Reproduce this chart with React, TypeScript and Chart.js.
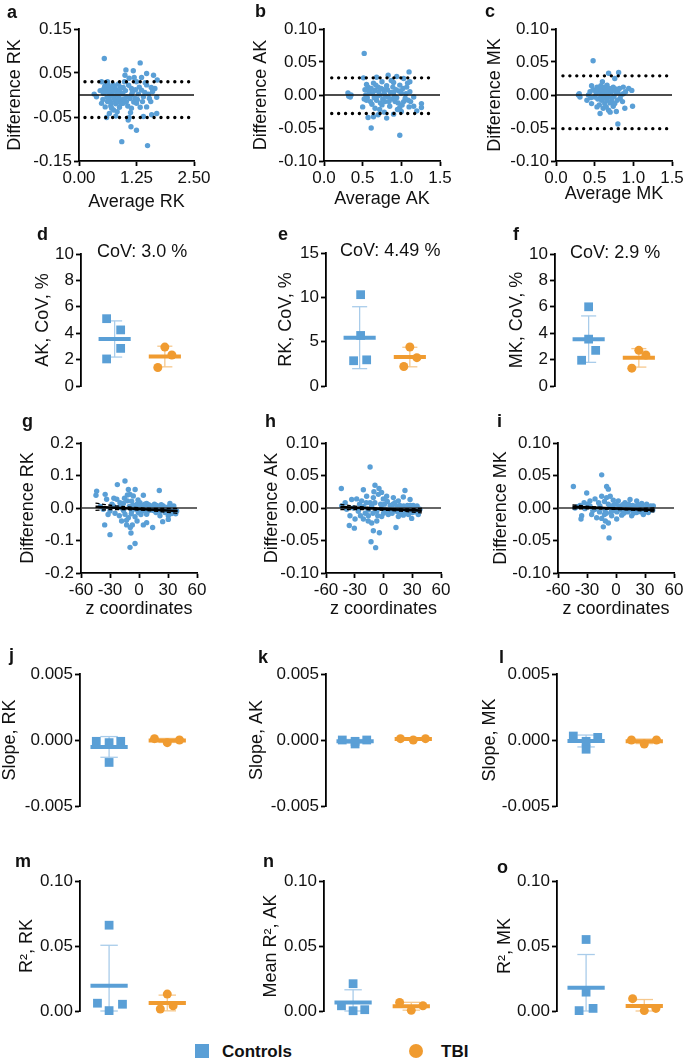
import React, { useEffect, useRef } from "react";
import { Chart, registerables } from "chart.js";
Chart.register(...registerables);

const FONT = '"Liberation Sans", Arial, Helvetica, sans-serif';
const FS = 17;
const TS = 18;
const BLUE = "#5A9FD6";
const ORANGE = "#F09B30";
const BLUE_LIGHT = "#A9CCEA";
const ORANGE_LIGHT = "#F6C88D";
const INK = "#111111";

type XY = [number, number];

// ---------------- tick values ----------------
const ticksDiffRK = [-0.15, -0.05, 0.05, 0.15];
const ticksAvgRK = [0, 1.25, 2.5];
const ticksDiff10 = [-0.1, -0.05, 0, 0.05, 0.1];
const ticksAvg15 = [0, 0.5, 1, 1.5];
const ticksCov10 = [0, 2, 4, 6, 8, 10];
const ticksCov15 = [0, 5, 10, 15];
const ticksDiff20 = [-0.2, -0.1, 0, 0.1, 0.2];
const ticksZ = [-60, -30, 0, 30, 60];
const ticksSlope = [-0.005, 0, 0.005];
const ticksR2 = [0, 0.05, 0.1];

// ---------------- Bland-Altman data (average, difference) ----------------
const baRK: XY[] = [
  [0.55,0.083],[1.33,0.073],[1.02,0.057],[1.18,0.055],[1.47,0.049],[1.62,0.045],[1.36,0.040],[1.70,0.034],[1.00,0.045],[1.09,0.038],
  [0.49,0.030],[0.59,0.028],[0.86,0.025],[1.25,0.030],[1.47,0.023],[1.57,0.017],[0.67,0.017],[0.78,0.020],[0.96,0.017],[1.14,0.015],
  [1.36,0.011],[0.33,0.002],[0.38,-0.004],[0.46,0.010],[0.53,0.004],[0.60,0.013],[0.64,-0.004],[0.71,0.005],[0.76,-0.008],[0.82,0.000],
  [0.89,0.008],[0.93,-0.011],[1.04,-0.004],[1.14,0.000],[1.22,-0.008],[1.29,0.002],[1.40,-0.004],[1.51,0.002],[1.60,0.008],[1.69,-0.005],
  [0.49,-0.019],[0.57,-0.027],[0.62,-0.015],[0.69,-0.025],[0.75,-0.034],[0.80,-0.020],[0.88,-0.028],[0.96,-0.019],[1.06,-0.025],[1.14,-0.030],
  [1.25,-0.019],[1.33,-0.028],[1.47,-0.027],[1.56,-0.015],[0.60,-0.051],[0.80,-0.048],[1.07,-0.057],[1.09,-0.051],[1.40,-0.049],[1.58,-0.045],
  [1.69,-0.042],[1.13,-0.072],[1.25,-0.080],[0.93,-0.106],[1.49,-0.115],[0.56,0.020],[0.58,0.008],[0.61,-0.005],[0.63,0.022],[0.65,0.006],
  [0.66,-0.012],[0.68,0.010],[0.70,-0.018],[0.72,0.015],[0.73,-0.002],[0.74,0.024],[0.77,0.009],[0.79,-0.012],[0.81,0.012],[0.84,-0.015],
  [0.85,0.004],[0.87,-0.006],[0.90,0.018],[0.91,-0.020],[0.95,0.003],[0.98,-0.009],[1.01,0.010],[1.03,-0.015],[1.08,0.022],[1.11,-0.008],
  [1.16,0.006],[1.19,-0.016],[1.23,0.012],[1.27,-0.010],[1.31,0.018],[1.38,-0.015],[1.43,0.006],[1.53,-0.008],[1.65,0.015],[0.52,-0.010],
  [0.54,0.014],[0.62,0.030],[0.71,-0.030],[0.83,-0.038],[0.99,0.030],[1.20,0.040],[1.44,0.028],[1.12,-0.040],[0.66,-0.042],
];
const baAK: XY[] = [
  [0.52,0.063],[1.10,0.035],[0.83,0.030],[0.94,0.028],[0.51,0.026],[0.68,0.027],[1.03,0.025],[1.11,0.020],[0.75,0.020],[0.64,0.018],
  [0.90,0.019],[0.98,0.015],[0.81,0.014],[0.57,0.012],[0.70,0.012],[1.07,0.012],[0.31,0.003],[0.34,-0.003],[0.53,0.008],[0.59,0.003],
  [0.66,0.007],[0.72,0.000],[0.77,0.008],[0.83,-0.003],[0.90,0.004],[0.94,-0.004],[1.00,0.003],[1.05,-0.005],[1.11,0.005],[1.16,-0.003],
  [0.50,-0.018],[0.55,-0.008],[0.62,-0.014],[0.68,-0.008],[0.75,-0.015],[0.79,-0.010],[0.85,-0.017],[0.92,-0.010],[0.98,-0.019],[1.03,-0.010],
  [1.09,-0.008],[1.20,-0.024],[1.26,-0.013],[1.26,-0.019],[1.16,-0.017],[0.57,-0.034],[0.64,-0.033],[0.81,-0.035],[0.70,-0.030],[0.90,-0.029],
  [1.00,-0.025],[0.61,-0.050],[0.98,-0.061],[1.10,-0.018],[0.54,0.000],[0.56,-0.004],[0.58,0.006],[0.60,-0.010],[0.61,0.010],[0.63,0.002],
  [0.65,-0.004],[0.67,0.015],[0.69,-0.002],[0.71,0.005],[0.73,-0.012],[0.74,0.010],[0.76,-0.006],[0.78,0.002],[0.80,-0.002],[0.82,0.008],
  [0.84,-0.010],[0.86,0.004],[0.88,-0.006],[0.89,0.012],[0.91,-0.002],[0.93,0.008],[0.96,-0.012],[0.97,0.006],[1.01,-0.015],[1.02,0.010],
  [1.06,0.002],[1.08,0.018],[1.12,-0.010],[0.72,-0.022],[0.78,-0.026],[0.87,0.022],[0.66,-0.020],[0.95,-0.022],[0.55,0.016],[0.52,-0.006],
  [0.35,0.000],[0.32,-0.002],
];
const baMK: XY[] = [
  [0.48,0.052],[0.68,0.033],[0.81,0.034],[0.76,0.025],[0.60,0.020],[0.46,0.014],[0.53,0.012],[0.66,0.015],[0.74,0.012],[0.87,0.012],
  [0.94,0.010],[0.98,0.007],[0.29,0.000],[0.31,-0.003],[0.40,-0.008],[0.44,0.005],[0.50,-0.003],[0.57,0.005],[0.61,-0.003],[0.68,0.003],
  [0.72,-0.005],[0.78,0.003],[0.83,-0.005],[0.87,0.002],[0.46,-0.013],[0.53,-0.018],[0.57,-0.028],[0.63,-0.013],[0.68,-0.023],[0.74,-0.017],
  [0.78,-0.025],[0.89,-0.020],[0.99,-0.017],[0.80,-0.044],[0.72,-0.010],[0.59,-0.008],[0.66,-0.008],[0.30,0.002],[0.42,0.000],[0.48,0.008],
  [0.52,0.002],[0.54,-0.006],[0.55,0.010],[0.58,-0.002],[0.60,0.008],[0.62,0.002],[0.63,0.012],[0.64,-0.005],[0.65,0.006],[0.67,-0.002],
  [0.69,0.010],[0.70,-0.012],[0.71,0.004],[0.73,0.007],[0.75,-0.002],[0.77,0.009],[0.79,-0.008],[0.80,0.006],[0.82,0.010],[0.84,0.000],
  [0.86,-0.010],[0.90,0.005],[0.56,-0.015],[0.61,-0.020],[0.65,-0.018],[0.70,-0.026],[0.76,-0.013],[0.51,0.006],[0.45,-0.004],[0.58,0.014],
];
// limits of agreement
const loaRK = [0.030, -0.051];
const loaAK = [0.026, -0.028];
const loaMK = [0.029, -0.051];

// ---------------- difference vs z coordinate ----------------
const zRK: XY[] = [
  [-43.8,0.052],[-44.5,0.039],[-35,0.042],[-33.5,0.027],[-22.4,0.072],[-14.5,0.083],[-11,0.057],[-4,0.057],[-5.9,0.037],[-9.3,0.042],
  [4.5,0.039],[21,0.054],[-23,0.027],[-19.7,0.016],[-26.6,0.006],[-16.2,0.014],[-7.6,0.021],[-2.4,0.011],[1,0.016],[7.9,0.014],
  [13,0.006],[18.3,0.008],[25,0.006],[32,0.014],[35.5,0.001],[39,-0.009],[-37,-0.004],[-30,-0.009],[-24.8,-0.016],[-20.3,-0.024],
  [-14.5,-0.019],[-11,-0.030],[-7.6,-0.009],[-4.1,-0.027],[-0.7,-0.014],[3.8,-0.009],[7.9,-0.019],[12,-0.006],[17.6,-0.014],[21.7,-0.024],
  [27,-0.014],[30.3,-0.024],[33.8,-0.017],[37,-0.014],[-35.5,-0.052],[-30,-0.082],[-18,-0.040],[-12.8,-0.052],[-6.9,-0.052],[-8.3,-0.077],
  [-9.3,-0.121],[-4.1,-0.109],[4.5,-0.052],[7.9,-0.045],[14.1,-0.060],[24.5,-0.042],[30.3,-0.035],[-40,0.005],[-28,0.012],[-18,0.000],
  [-15,0.030],[-12,0.022],[-10,0.005],[-8,-0.018],[-6,0.008],[-3,-0.004],[-1,0.025],[0,0.004],[2,-0.020],[3,0.008],
  [5,-0.003],[6,0.012],[8,0.002],[9,-0.010],[10,0.010],[11,-0.002],[14,0.002],[15,-0.008],[16,0.012],[19,-0.004],
  [20,0.003],[22,-0.010],[23,0.010],[26,-0.004],[28,0.002],[29,-0.008],[31,0.004],[34,-0.004],[36,0.006],[38,-0.018],
  [-13,-0.038],[-16,-0.008],[-21,0.002],[-32,-0.020],[-26,0.030],[-12,0.040],[-2,-0.040],[-9,-0.060],
];
const zAK: XY[] = [
  [-14,0.063],[-44,0.030],[-8.9,0.035],[-4.7,0.030],[-21,0.028],[22.4,0.027],[-33.2,0.013],[-28,0.014],[-22.8,0.011],[-17.6,0.018],
  [-10.6,0.016],[-5.4,0.021],[-0.2,0.014],[3.3,0.018],[10.3,0.016],[15.5,0.011],[20.7,0.017],[27.7,0.013],[31,0.004],[34.6,0.002],
  [-43.6,0.003],[-38.4,-0.002],[-31.5,0.000],[-26.3,-0.005],[-21,0.002],[-15.8,-0.003],[-12.3,0.003],[-7.1,-0.005],[-1.9,0.000],[3.3,-0.004],
  [8.5,0.002],[13.7,-0.005],[19,-0.001],[24.2,-0.005],[29.4,0.000],[36.3,-0.004],[-35,-0.012],[-29.7,-0.017],[-35.7,-0.027],[-30.4,-0.031],
  [-21,-0.017],[-15.8,-0.012],[-12.3,-0.023],[-10.6,-0.035],[-4.3,-0.038],[-13,-0.052],[-8.2,-0.061],[-1.9,-0.013],[5,-0.010],[13,-0.030],
  [20.7,-0.011],[29.4,-0.016],[36.3,-0.010],[15.5,-0.013],[-40,0.008],[-25,0.006],[-18,0.008],[-9,0.008],[-6,-0.012],[-3,0.006],
  [0,-0.008],[1,0.006],[2,-0.002],[4,0.010],[6,-0.006],[7,0.004],[9,-0.008],[10,0.006],[11,-0.003],[12,0.008],
  [14,0.002],[16,-0.006],[17,0.004],[18,-0.008],[21,0.003],[23,-0.008],[25,0.004],[26,-0.010],[28,0.004],[30,-0.007],
  [32,0.002],[33,-0.006],[35,0.003],[38,-0.002],[-11,-0.008],[-14,0.008],[-19,-0.008],[-24,-0.012],[-7,-0.020],[-2,0.024],
  [-16,-0.020],[-10,0.025],
];
const zMK: XY[] = [
  [-14.8,0.051],[-44.1,0.033],[-9.7,0.033],[-7.9,0.029],[-30.3,0.023],[14.5,0.013],[21.4,0.011],[-14.8,0.018],[-21.7,0.014],[-26.9,0.011],
  [-9.7,0.016],[-2.8,0.012],[2.4,0.011],[9.3,0.008],[26.6,0.007],[31.7,0.006],[38.6,0.003],[-42.4,0.000],[-37.2,0.004],[-32.1,-0.001],
  [-26.9,0.003],[-21.7,-0.002],[-16.6,0.003],[-11.4,-0.003],[-6.2,0.002],[-1,-0.004],[4.1,0.002],[9.3,-0.005],[14.5,0.000],[19.7,-0.005],
  [24.8,0.000],[30,-0.005],[35.2,-0.002],[-35.5,-0.012],[-36.2,-0.017],[-25.2,-0.010],[-20,-0.015],[-13.1,-0.029],[-7.9,-0.023],[-7.2,-0.046],
  [0.7,-0.017],[-4.5,-0.012],[5.9,-0.011],[16.2,-0.012],[21.4,-0.007],[28.3,-0.010],[33.4,-0.007],[-14.8,-0.016],[-40,0.002],[-29,0.006],
  [-18,0.008],[-12,0.010],[-10,-0.008],[-8,0.006],[-5,-0.006],[-3,0.004],[0,0.006],[1,-0.006],[3,0.003],[5,-0.003],
  [7,0.005],[8,-0.008],[11,0.004],[12,-0.006],[13,0.006],[16,-0.003],[17,0.004],[18,-0.008],[20,0.003],[22,-0.002],
  [23,0.005],[26,-0.006],[27,0.002],[29,-0.002],[32,0.002],[34,-0.004],[36,0.003],[38,-0.003],[-12,-0.010],[-17,-0.006],
  [-24,-0.004],[-33,0.008],[-6,0.018],[-11,-0.020],
];
// regression line and 95% band
const regRK: XY[] = [[-45, 0.004], [40, -0.009]];
const bandUpRK: XY[] = [[-45, 0.015], [-25, 0.0068], [-5, 0.0018], [15, -0.0012], [40, -0.0015]];
const bandLoRK: XY[] = [[-45, -0.007], [-25, -0.0048], [-5, -0.006], [15, -0.0092], [40, -0.0165]];
const regAK: XY[] = [[-45, 0.0015], [40, -0.004]];
const bandUpAK: XY[] = [[-45, 0.0055], [-25, 0.0022], [-5, -0.0003], [15, -0.0015], [40, -0.0005]];
const bandLoAK: XY[] = [[-45, -0.0025], [-25, -0.0024], [-5, -0.0032], [15, -0.0045], [40, -0.0075]];
const regMK: XY[] = [[-45, 0.0018], [40, -0.003]];
const bandUpMK: XY[] = [[-45, 0.0048], [-25, 0.0022], [-5, 0.0], [15, -0.001], [40, 0.0]];
const bandLoMK: XY[] = [[-45, -0.0012], [-25, -0.0012], [-5, -0.002], [15, -0.0032], [40, -0.006]];

// ---------------- group data (Controls / TBI) ----------------
const covAKCtrl = [5.1, 4.25, 2.85, 2.05];
const covAKTbi = [2.95, 2.35, 1.4];
const covRKCtrl = [10.3, 5.7, 2.85, 2.95];
const covRKTbi = [4.4, 3.2, 2.2];
const covMKCtrl = [6.0, 3.55, 2.7, 1.95];
const covMKTbi = [2.7, 2.35, 1.35];
const slopeRKCtrl = [-0.0001, -0.0002, -0.0001, -0.0017];
const slopeRKTbi = [0.0001, -0.0002, 0.0];
const slopeAKCtrl = [0.0, -0.0003, 0.0, -0.0001];
const slopeAKTbi = [0.0001, 0.0, 0.0001];
const slopeMKCtrl = [0.0003, -0.0007, 0.0002, -0.0001];
const slopeMKTbi = [0.0, -0.0003, 0.0];
const r2RKCtrl = [0.066, 0.006, 0.0052, 0.0003];
const r2RKTbi = [0.013, 0.004, 0.0015];
const r2AKCtrl = [0.021, 0.004, 0.0002, 0.001];
const r2AKTbi = [0.0065, 0.004, 0.0005];
const r2MKCtrl = [0.055, 0.0145, 0.002, 0.0003];
const r2MKTbi = [0.0095, 0.002, 0.0003];
// horizontal placement of the dots within each group (scatter-dot layout)
const jitCovAKCtrl = [-0.16, 0.12, 0.12, -0.16];
const jitCovAKTbi = [0, 0.14, -0.14];
const jitCovRKCtrl = [0.02, 0.02, -0.12, 0.14];
const jitCovRKTbi = [0, 0.14, -0.12];
const jitCovMKCtrl = [0, 0, 0.14, -0.14];
const jitCovMKTbi = [0, 0.14, -0.14];
const jitSlopeCtrl = [-0.22, 0, 0.2, 0];
const jitSlopeTbi = [-0.22, 0, 0.21];
const jitR2RKCtrl = [0, -0.2, 0.23, 0];
const jitR2RKTbi = [0, 0.1, -0.12];
const jitR2AKCtrl = [0, -0.2, 0, 0.2];
const jitR2AKTbi = [-0.2, 0.2, 0];
const jitR2MKCtrl = [0, 0, 0.12, -0.12];
const jitR2MKTbi = [-0.2, 0.2, 0];

const CTRL_X = 1;
const TBI_X = 2;

// ---------------- helpers ----------------
const mean = (a: number[]) => a.reduce((s, v) => s + v, 0) / a.length;
const sd = (a: number[]) => {
  const m = mean(a);
  return Math.sqrt(a.reduce((s, v) => s + (v - m) * (v - m), 0) / (a.length - 1));
};
const toPts = (a: XY[]) => a.map(([x, y]) => ({ x, y }));

function dots(pts: XY[], color: string, style = "circle", r = 2.7, order = 2) {
  return {
    data: toPts(pts), showLine: false, pointStyle: style, pointRadius: r, pointHoverRadius: r,
    pointBackgroundColor: color, pointBorderColor: color, pointBorderWidth: 0, clip: false, order,
  };
}
function line(pts: XY[], color: string, width: number, extra: any = {}) {
  return {
    data: toPts(pts), showLine: true, borderColor: color, borderWidth: width, pointRadius: 0,
    pointHoverRadius: 0, fill: false, clip: false, order: 0, ...extra,
  };
}

function baDatasets(pts: XY[], loa: number[], xMax: number, from: number, to: number) {
  const dotted = { borderDash: [0.01, 6.9], borderCapStyle: "round" };
  return [
    dots(pts, BLUE),
    line([[0, 0], [xMax, 0]], INK, 1.4),
    line([[from, loa[0]], [to, loa[0]]], "#000", 3.4, dotted),
    line([[from, loa[1]], [to, loa[1]]], "#000", 3.4, dotted),
  ];
}
function zDatasets(pts: XY[], reg: XY[], up: XY[], lo: XY[]) {
  const dashed = { borderDash: [4, 2.5], tension: 0.4 };
  return [
    dots(pts, BLUE),
    line([[-60, 0], [60, 0]], "#333", 1.6, { order: 1 }),
    line(reg, "#000", 2.6),
    line(up, "#000", 1.3, dashed),
    line(lo, "#000", 1.3, dashed),
  ];
}
function groupDatasets(vals: number[], jit: number[], cx: number, color: string, light: string, style: string, r: number, yMin: number) {
  const m = mean(vals);
  const s = sd(vals);
  const cap = 0.15;
  const lo = Math.max(m - s, yMin); // the error bar is cut at the axis
  const hi = m + s;
  const pts: XY[] = vals.map((v, i) => [cx + jit[i], v]);
  return [
    dots(pts, color, style, r, 2),
    line([[cx - 0.32, m], [cx + 0.32, m]], color, 4, { order: 1 }),
    line([[cx, lo], [cx, hi]], light, 1.3, { order: 3 }),
    line([[cx - cap, hi], [cx + cap, hi]], light, 1.3, { order: 3 }),
    line([[cx - cap, lo], [cx + cap, lo]], light, 1.3, { order: 3 }),
  ];
}
function twoGroups(c: number[], cj: number[], t: number[], tj: number[], yMin: number) {
  return [
    ...groupDatasets(c, cj, CTRL_X, BLUE, BLUE_LIGHT, "rect", 6.2, yMin),
    ...groupDatasets(t, tj, TBI_X, ORANGE, ORANGE_LIGHT, "circle", 4.5, yMin),
  ];
}

type Cfg = {
  id: string;
  plot: { l: number; t: number; r: number; b: number };
  yTitleX: number;
  xTitleY?: number;
  xMin: number; xMax: number; yMin: number; yMax: number;
  xTicks?: number[]; xDec?: number;
  yTicks: number[]; yDec: number;
  xTitle?: string; yTitle: string;
  datasets: any[];
};

function ChartPanel({ cfg }: { cfg: Cfg }) {
  const ref = useRef<HTMLCanvasElement | null>(null);
  const LH = TS * 1.2;
  const showX = !!cfg.xTitle;
  const lpad = Math.round(cfg.plot.l - (cfg.yTitleX - LH / 2));
  const tpad = 14;
  const rpad = 26;
  const bpad = showX ? Math.round((cfg.xTitleY as number) + LH / 2 - cfg.plot.b) : 14;
  const left = cfg.plot.l - lpad;
  const top = cfg.plot.t - tpad;
  const width = Math.round(cfg.plot.r - cfg.plot.l) + lpad + rpad;
  const height = Math.round(cfg.plot.b - cfg.plot.t) + tpad + bpad;

  useEffect(() => {
    if (!ref.current) return;
    const tickFont = { family: FONT, size: FS };
    const titleFont = { family: FONT, size: TS };
    const grid = { drawOnChartArea: false, drawTicks: true, tickLength: 5, tickWidth: 1.8, tickColor: "#000" };
    const border = { display: true, color: "#000", width: 1.8 };
    const chart = new Chart(ref.current, {
      type: "scatter",
      data: { datasets: cfg.datasets },
      options: {
        responsive: false,
        maintainAspectRatio: false,
        animation: false,
        events: [],
        layout: { padding: { left: 0, top: tpad, right: rpad, bottom: showX ? 0 : bpad } },
        plugins: { legend: { display: false }, tooltip: { enabled: false }, title: { display: false } },
        scales: {
          x: {
            type: "linear",
            display: showX,
            min: cfg.xMin,
            max: cfg.xMax,
            afterBuildTicks: (s: any) => { if (cfg.xTicks) s.ticks = cfg.xTicks.map((v) => ({ value: v })); },
            afterFit: (s: any) => { s.height = showX ? bpad : 0; },
            ticks: {
              autoSkip: false, maxRotation: 0, minRotation: 0, padding: 2, color: INK, font: tickFont,
              callback: (v: any) => Number(v).toFixed(cfg.xDec ?? 0),
            },
            grid, border,
            title: { display: showX, text: cfg.xTitle || "", color: INK, font: titleFont, padding: 0 },
          },
          y: {
            type: "linear",
            min: cfg.yMin,
            max: cfg.yMax,
            afterBuildTicks: (s: any) => { s.ticks = cfg.yTicks.map((v) => ({ value: v })); },
            afterFit: (s: any) => { s.width = lpad; },
            ticks: {
              autoSkip: false, padding: 2, color: INK, font: tickFont,
              callback: (v: any) => Number(v).toFixed(cfg.yDec),
            },
            grid, border,
            title: { display: true, text: cfg.yTitle, color: INK, font: titleFont, padding: 0 },
          },
        },
      } as any,
    });
    return () => chart.destroy();
  }, []);

  return (
    <canvas
      ref={ref}
      width={width}
      height={height}
      style={{ position: "absolute", left, top, width, height }}
    />
  );
}

// ---------------- panel layout ----------------
const row2 = (l: number, t: number) => ({ l, t, r: l + (2.8 - 0.33) * 50, b: 386 });
const row45 = (l: number, t: number, b: number) => ({ l, t, r: l + (2.7 - 0.5) * 58, b });

const panels: Cfg[] = [
  { id: "a", plot: { l: 79, t: 29, r: 194, b: 161 }, yTitleX: 15, xTitleY: 202, xMin: 0, xMax: 2.5, yMin: -0.15, yMax: 0.15,
    xTicks: ticksAvgRK, xDec: 2, yTicks: ticksDiffRK, yDec: 2, xTitle: "Average RK", yTitle: "Difference RK",
    datasets: baDatasets(baRK, loaRK, 2.5, 0.13, 2.41) },
  { id: "b", plot: { l: 324, t: 29, r: 440, b: 161 }, yTitleX: 261, xTitleY: 199, xMin: 0, xMax: 1.5, yMin: -0.1, yMax: 0.1,
    xTicks: ticksAvg15, xDec: 1, yTicks: ticksDiff10, yDec: 2, xTitle: "Average AK", yTitle: "Difference AK",
    datasets: baDatasets(baAK, loaAK, 1.5, 0.1, 1.44) },
  { id: "c", plot: { l: 556, t: 29, r: 672, b: 161 }, yTitleX: 495, xTitleY: 194, xMin: 0, xMax: 1.5, yMin: -0.1, yMax: 0.1,
    xTicks: ticksAvg15, xDec: 1, yTicks: ticksDiff10, yDec: 2, xTitle: "Average MK", yTitle: "Difference MK",
    datasets: baDatasets(baMK, loaMK, 1.5, 0.09, 1.44) },

  { id: "d", plot: row2(81, 254), yTitleX: 43, xMin: 0.33, xMax: 2.8, yMin: 0, yMax: 10,
    yTicks: ticksCov10, yDec: 0, yTitle: "AK, CoV, %",
    datasets: twoGroups(covAKCtrl, jitCovAKCtrl, covAKTbi, jitCovAKTbi, 0) },
  { id: "e", plot: row2(326, 253), yTitleX: 286, xMin: 0.33, xMax: 2.8, yMin: 0, yMax: 15,
    yTicks: ticksCov15, yDec: 0, yTitle: "RK, CoV, %",
    datasets: twoGroups(covRKCtrl, jitCovRKCtrl, covRKTbi, jitCovRKTbi, 0) },
  { id: "f", plot: row2(555, 254), yTitleX: 517, xMin: 0.33, xMax: 2.8, yMin: 0, yMax: 10,
    yTicks: ticksCov10, yDec: 0, yTitle: "MK, CoV, %",
    datasets: twoGroups(covMKCtrl, jitCovMKCtrl, covMKTbi, jitCovMKTbi, 0) },

  { id: "g", plot: { l: 81, t: 443, r: 197, b: 573 }, yTitleX: 28, xTitleY: 609, xMin: -60, xMax: 60, yMin: -0.2, yMax: 0.2,
    xTicks: ticksZ, xDec: 0, yTicks: ticksDiff20, yDec: 1, xTitle: "z coordinates", yTitle: "Difference RK",
    datasets: zDatasets(zRK, regRK, bandUpRK, bandLoRK) },
  { id: "h", plot: { l: 326, t: 443, r: 441, b: 573 }, yTitleX: 272, xTitleY: 609, xMin: -60, xMax: 60, yMin: -0.1, yMax: 0.1,
    xTicks: ticksZ, xDec: 0, yTicks: ticksDiff10, yDec: 2, xTitle: "z coordinates", yTitle: "Difference AK",
    datasets: zDatasets(zAK, regAK, bandUpAK, bandLoAK) },
  { id: "i", plot: { l: 558, t: 443, r: 674, b: 573 }, yTitleX: 501, xTitleY: 609, xMin: -60, xMax: 60, yMin: -0.1, yMax: 0.1,
    xTicks: ticksZ, xDec: 0, yTicks: ticksDiff10, yDec: 2, xTitle: "z coordinates", yTitle: "Difference MK",
    datasets: zDatasets(zMK, regMK, bandUpMK, bandLoMK) },

  { id: "j", plot: row45(80, 674, 806), yTitleX: 10, xMin: 0.5, xMax: 2.7, yMin: -0.005, yMax: 0.005,
    yTicks: ticksSlope, yDec: 3, yTitle: "Slope, RK",
    datasets: twoGroups(slopeRKCtrl, jitSlopeCtrl, slopeRKTbi, jitSlopeTbi, -0.005) },
  { id: "k", plot: row45(326, 674, 806), yTitleX: 257, xMin: 0.5, xMax: 2.7, yMin: -0.005, yMax: 0.005,
    yTicks: ticksSlope, yDec: 3, yTitle: "Slope, AK",
    datasets: twoGroups(slopeAKCtrl, jitSlopeCtrl, slopeAKTbi, jitSlopeTbi, -0.005) },
  { id: "l", plot: row45(557, 674, 806), yTitleX: 490, xMin: 0.5, xMax: 2.7, yMin: -0.005, yMax: 0.005,
    yTicks: ticksSlope, yDec: 3, yTitle: "Slope, MK",
    datasets: twoGroups(slopeMKCtrl, jitSlopeCtrl, slopeMKTbi, jitSlopeTbi, -0.005) },

  { id: "m", plot: row45(80, 881, 1011), yTitleX: 27, xMin: 0.5, xMax: 2.7, yMin: 0, yMax: 0.1,
    yTicks: ticksR2, yDec: 2, yTitle: "R², RK",
    datasets: twoGroups(r2RKCtrl, jitR2RKCtrl, r2RKTbi, jitR2RKTbi, 0) },
  { id: "n", plot: row45(324, 881, 1011), yTitleX: 271, xMin: 0.5, xMax: 2.7, yMin: 0, yMax: 0.1,
    yTicks: ticksR2, yDec: 2, yTitle: "Mean R², AK",
    datasets: twoGroups(r2AKCtrl, jitR2AKCtrl, r2AKTbi, jitR2AKTbi, 0) },
  { id: "o", plot: row45(557, 881, 1011), yTitleX: 505, xMin: 0.5, xMax: 2.7, yMin: 0, yMax: 0.1,
    yTicks: ticksR2, yDec: 2, yTitle: "R², MK",
    datasets: twoGroups(r2MKCtrl, jitR2MKCtrl, r2MKTbi, jitR2MKTbi, 0) },
];

// panel letters: [letter, left, baseline]
const letters: [string, number, number][] = [
  ["a", 7, 18], ["b", 255, 17], ["c", 485, 17],
  ["d", 37, 240], ["e", 278, 240], ["f", 513, 240],
  ["g", 22, 427], ["h", 265, 427], ["i", 497, 427],
  ["j", 9, 661], ["k", 258, 663], ["l", 499, 663],
  ["m", 15, 867], ["n", 263, 867], ["o", 497, 873],
];
// CoV annotations: [text, left, baseline]
const covNotes: [string, number, number][] = [
  ["CoV: 3.0 %", 97, 257], ["CoV: 4.49 %", 340, 256], ["CoV: 2.9 %", 570, 258],
];
const legendItems: { label: string; color: string; shape: string; x: number; tx: number }[] = [
  { label: "Controls", color: BLUE, shape: "square", x: 195, tx: 222 },
  { label: "TBI", color: ORANGE, shape: "circle", x: 409, tx: 441 },
];

function Txt({ text, left, baseline, size, bold }: { text: string; left: number; baseline: number; size: number; bold?: boolean }) {
  const top = baseline - (0.905 * size - (1.117 * size - size) / 2);
  return (
    <div style={{ position: "absolute", left, top, fontSize: size, lineHeight: `${size}px`, fontWeight: bold ? 700 : 400,
      fontFamily: FONT, color: INK, whiteSpace: "nowrap" }}>{text}</div>
  );
}

export default function App() {
  return (
    <div style={{ position: "absolute", left: 0, top: 0, width: 685, height: 1060, background: "#fff", overflow: "hidden" }}>
      {panels.map((p) => <ChartPanel key={p.id} cfg={p} />)}
      {letters.map(([t, x, b]) => <Txt key={t} text={t} left={x} baseline={b} size={18} bold />)}
      {covNotes.map(([t, x, b]) => <Txt key={t} text={t} left={x} baseline={b} size={TS} />)}
      {legendItems.map((it) => (
        <React.Fragment key={it.label}>
          <div style={{ position: "absolute", left: it.x, top: 1044, width: 14, height: 14, background: it.color,
            borderRadius: it.shape === "circle" ? "50%" : 0 }} />
          <Txt text={it.label} left={it.tx} baseline={1057} size={FS} bold />
        </React.Fragment>
      ))}
    </div>
  );
}
